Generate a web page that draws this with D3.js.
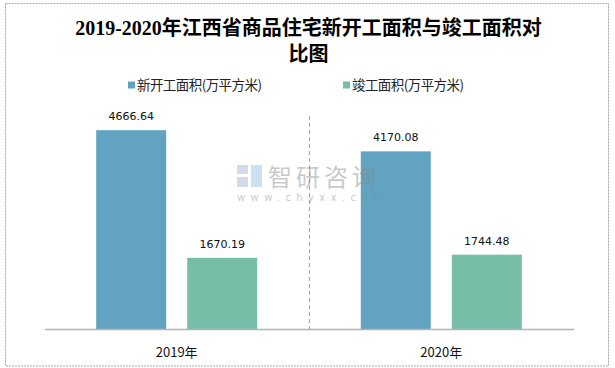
<!DOCTYPE html>
<html><head><meta charset="utf-8">
<script src="https://cdn.jsdelivr.net/npm/d3@7"></script>
<style>html,body{margin:0;padding:0;background:#fff;}svg{display:block;}</style>
</head><body>
<svg id="chart" width="615" height="368"></svg>
<script>
const categories = ["2019年", "2020年"];
const seriesNames = ["新开工面积(万平方米)", "竣工面积(万平方米)"];
const newStart = [4666.64, 4170.08];
const completed = [1670.19, 1744.48];
const titleLines = ["2019-2020年江西省商品住宅新开工面积与竣工面积对", "比图"];
const colors = ["#62a3c2", "#76bea8"];

const svg = d3.select("#chart");
const plot = {left: 44.4, right: 573.6, top: 116, bottom: 329};

// border
svg.append("rect").attr("x", 5.5).attr("y", 3.5).attr("width", 603).attr("height", 362.5)
  .attr("fill", "#fff").attr("stroke", "#a6a6a6").attr("stroke-width", 1).attr("stroke-dasharray", "2,1");

// title
const title = svg.append("text").attr("text-anchor", "middle")
  .attr("font-family", "'Liberation Serif','Noto Sans CJK SC',serif").attr("font-weight", "bold")
  .attr("font-size", 20).attr("fill", "#000");
titleLines.forEach((t, i) => title.append("tspan").attr("x", 308.5).attr("y", 35 + i * 26).text(t));

// legend
const legendX = [128, 343];
seriesNames.forEach((s, i) => {
  const g = svg.append("g").attr("transform", `translate(${legendX[i]},85)`);
  g.append("rect").attr("x", 0).attr("y", -3.5).attr("width", 7).attr("height", 7).attr("fill", colors[i]);
  g.append("text").attr("x", 9).attr("y", 5).attr("font-family", "'Noto Sans CJK SC',sans-serif")
    .attr("font-size", 13.5).attr("fill", "#222").attr("textLength", i === 0 ? 125 : 112).text(s);
});

// scales
const x0 = d3.scaleBand().domain(categories).range([plot.left, plot.right]).padding(0);
const x1 = d3.scaleBand().domain(seriesNames).range([0, x0.bandwidth()]).paddingInner(0.2308).paddingOuter(0.569);
const y = d3.scaleLinear().domain([0, 5000]).range([plot.bottom, plot.top]);

const rows = categories.map((c, i) => ({cat: c, vals: [newStart[i], completed[i]]}));

// separator
svg.append("line").attr("x1", x0(categories[1]) + 0.5).attr("x2", x0(categories[1]) + 0.5)
  .attr("y1", plot.top).attr("y2", plot.bottom).attr("stroke", "#a6a6a6").attr("stroke-dasharray", "4,3");

const groups = svg.selectAll("g.grp").data(rows).enter().append("g").attr("class", "grp")
  .attr("transform", d => `translate(${x0(d.cat)},0)`);
groups.selectAll("rect").data(d => d.vals.map((v, i) => ({s: seriesNames[i], v, i}))).enter().append("rect")
  .attr("x", d => x1(d.s)).attr("width", x1.bandwidth())
  .attr("y", d => y(d.v)).attr("height", d => y(0) - y(d.v)).attr("fill", d => colors[d.i]);
groups.selectAll("text.val").data(d => d.vals.map((v, i) => ({s: seriesNames[i], v}))).enter().append("text")
  .attr("class", "val").attr("text-anchor", "middle")
  .attr("x", d => x1(d.s) + x1.bandwidth() / 2).attr("y", d => y(d.v) - 10)
  .attr("font-family", "'DejaVu Sans',sans-serif").attr("font-size", 11).attr("fill", "#111")
  .text(d => d3.format(".2f")(d.v));

// axis
const ax = svg.append("g").attr("transform", `translate(0,${plot.bottom})`)
  .call(d3.axisBottom(x0).tickSize(0).tickPadding(0));
ax.select(".domain").attr("stroke", "#b3b3b3").attr("stroke-width", 1.5);
ax.selectAll("text").attr("font-family", "'Noto Sans CJK SC',sans-serif").attr("font-size", 13)
  .attr("fill", "#111").attr("dy", 0).attr("y", 28);

// watermark (on top)
const wm = svg.append("g").attr("opacity", 0.45);
wm.append("rect").attr("x", 237).attr("y", 165).attr("width", 11).attr("height", 9).attr("fill", "#9fb0d0");
wm.append("rect").attr("x", 237).attr("y", 177).attr("width", 11).attr("height", 10).attr("fill", "#9fb0d0");
wm.append("rect").attr("x", 251).attr("y", 165).attr("width", 11).attr("height", 22).attr("fill", "#8fc0e6");
wm.append("text").attr("x", 268).attr("y", 186).attr("font-family", "'Noto Sans CJK SC',sans-serif")
  .attr("font-size", 24).attr("fill", "#8a8a8a").attr("letter-spacing", 4).text("智研咨询");
wm.append("text").attr("x", 237).attr("y", 201).attr("font-family", "'DejaVu Sans',sans-serif")
  .attr("font-size", 10).attr("fill", "#8a8a8a").attr("letter-spacing", 5.4).text("www.chyxx.com");
</script>
</body></html>
